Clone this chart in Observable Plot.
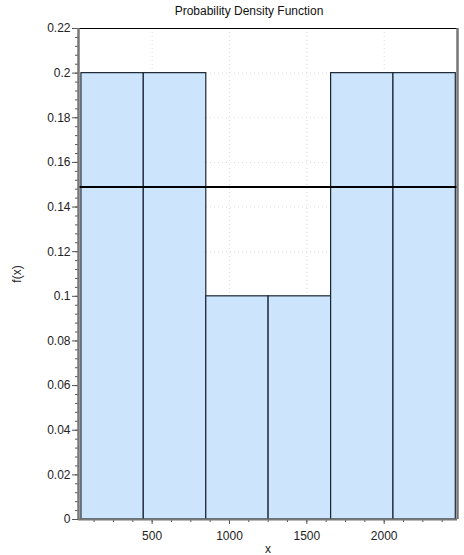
<!DOCTYPE html>
<html>
<head>
<meta charset="utf-8">
<script src="https://cdn.jsdelivr.net/npm/d3@7"></script>
<script src="https://cdn.jsdelivr.net/npm/@observablehq/plot@0.6"></script>
<style>
  html, body { margin: 0; padding: 0; background: #fff; }
  #wrap { width: 464px; height: 555px; position: relative; font-family: "Liberation Sans", Arial, sans-serif; }
  #title { height: 22px; line-height: 22px; text-align: center; font-size: 12px; color: #111; padding-left: 34px; box-sizing: border-box; }
  svg { display: block; }
</style>
</head>
<body>
<div id="wrap">
  <div id="title">Probability Density Function</div>
  <div id="chart"></div>
</div>
<script>
// Data
const binEdges = [43, 446, 850, 1253, 1657, 2060, 2463];
const densities = [0.2, 0.2, 0.1, 0.1, 0.2, 0.2];
const refLine = [0.149];
const xTicks = [500, 1000, 1500, 2000];
const yTicks = [0, 0.02, 0.04, 0.06, 0.08, 0.1, 0.12, 0.14, 0.16, 0.18, 0.2, 0.22];
const xDomain = [24, 2474];
const yDomain = [0, 0.22];

const bins = densities.map((d, i) => ({x1: binEdges[i], x2: binEdges[i + 1], y: d}));
const xMinor = d3.range(125, 2474, 125).filter(v => v > xDomain[0]);
const yMinor = d3.range(0, 0.2201, 0.004);
const fmt = d => String(+d.toFixed(2));

const chart = Plot.plot({
  width: 464,
  height: 533,
  marginLeft: 78,
  marginRight: 7,
  marginTop: 6,
  marginBottom: 36,
  style: {fontFamily: "Liberation Sans, Arial, sans-serif", fontSize: "11px", color: "#222", background: "#fff"},
  x: {domain: xDomain},
  y: {domain: yDomain},
  marks: [
    Plot.gridX(xTicks, {stroke: "#bbb", strokeOpacity: 0.5, strokeDasharray: "1,3"}),
    Plot.gridY(yTicks, {stroke: "#bbb", strokeOpacity: 0.5, strokeDasharray: "1,3"}),
    Plot.rect(bins, {x1: "x1", x2: "x2", y1: 0, y2: "y", fill: "#cce4fc", stroke: "#1b2633", strokeWidth: 1.2}),
    Plot.ruleY(refLine, {stroke: "#000", strokeWidth: 2}),
    Plot.axisX(xMinor, {tickSize: 3, text: null, label: null, stroke: "#555"}),
    Plot.axisX(xTicks, {tickSize: 5, tickPadding: 7, tickFormat: d => String(d), stroke: "#555", fontSize: 12, label: "x", labelAnchor: "center", labelArrow: "none", labelOffset: 33}),
    Plot.axisY(yMinor, {tickSize: 3, text: null, label: null, stroke: "#555"}),
    Plot.axisY(yTicks, {tickSize: 6, tickPadding: 2, tickFormat: fmt, stroke: "#555", fontSize: 12, label: "f(x)", labelAnchor: "center", labelArrow: "none", labelOffset: 66}),
    Plot.ruleY([yDomain[1]], {stroke: "#000", strokeWidth: 1.2}),
    Plot.ruleX([xDomain[1]], {stroke: "#777", strokeWidth: 2.5}),
    Plot.ruleX([xDomain[0]], {stroke: "#777", strokeWidth: 2.5}),
    Plot.ruleY([yDomain[0]], {stroke: "#777", strokeWidth: 2})
  ]
});
document.getElementById("chart").appendChild(chart);
</script>
</body>
</html>
